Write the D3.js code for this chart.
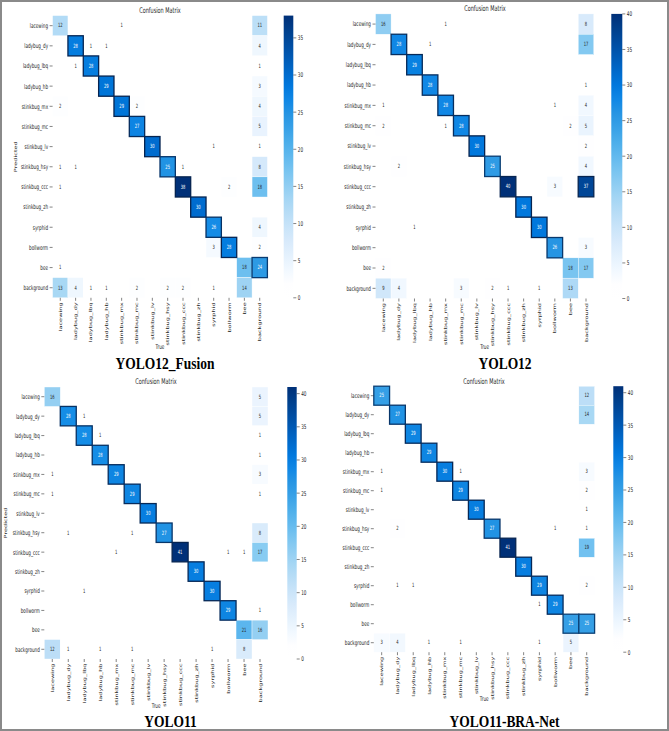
<!DOCTYPE html>
<html><head><meta charset="utf-8">
<script src="https://cdn.jsdelivr.net/npm/d3@7"></script>
<style>body{margin:0;background:#fff}svg{display:block}</style>
</head><body>
<script>
const classes = ["lacewing","ladybug_dy","ladybug_lbq","ladybug_hb","stinkbug_mx","stinkbug_mc","stinkbug_lv","stinkbug_hsy","stinkbug_ccc","stinkbug_zh","syrphid","bollworm","bee","background"];

const yolo12Fusion = [
  [12,0,0,0,1,0,0,0,0,0,0,0,0,11],
  [0,28,1,1,0,0,0,0,0,0,0,0,0,4],
  [0,1,28,0,0,0,0,0,0,0,0,0,0,1],
  [0,0,0,29,0,0,0,0,0,0,0,0,0,3],
  [2,0,0,0,29,2,0,0,0,0,0,0,0,4],
  [0,0,0,0,0,27,0,0,0,0,0,0,0,5],
  [0,0,0,0,0,0,30,0,0,0,1,0,0,1],
  [1,1,0,0,0,0,0,25,1,0,0,0,0,8],
  [1,0,0,0,0,0,0,0,38,0,0,2,0,18],
  [0,0,0,0,0,0,0,0,0,30,0,0,0,0],
  [0,0,0,0,0,0,0,0,0,0,26,0,0,4],
  [0,0,0,0,0,0,0,0,0,0,3,28,0,2],
  [1,0,0,0,0,0,0,0,0,0,0,0,18,24],
  [13,4,1,1,0,2,0,2,2,0,1,0,14,0]
];
const yolo12 = [
  [16,0,0,0,1,0,0,0,0,0,0,0,0,8],
  [0,28,0,1,0,0,0,0,0,0,0,0,0,17],
  [0,0,29,0,0,0,0,0,0,0,0,0,0,0],
  [0,0,0,28,0,0,0,0,0,0,0,0,0,1],
  [1,0,0,0,28,0,0,0,0,0,0,1,0,4],
  [2,0,0,0,1,28,0,0,0,0,0,0,2,5],
  [0,0,0,0,0,0,30,0,0,0,0,0,0,2],
  [0,2,0,0,0,0,0,25,0,0,0,0,0,4],
  [0,0,0,0,0,0,0,0,40,0,0,3,0,37],
  [0,0,0,0,0,0,0,0,0,30,0,0,0,0],
  [0,0,1,0,0,0,0,0,0,0,30,0,0,0],
  [0,0,0,0,0,0,0,0,0,0,0,26,0,3],
  [2,0,0,0,0,0,0,0,0,0,0,0,18,17],
  [9,4,0,0,0,3,0,2,1,0,1,0,13,0]
];
const yolo11 = [
  [16,0,0,0,0,0,0,0,0,0,0,0,0,5],
  [0,28,1,0,0,0,0,0,0,0,0,0,0,5],
  [0,0,28,1,0,0,0,0,0,0,0,0,0,1],
  [0,0,0,28,0,0,0,0,0,0,0,0,0,1],
  [1,0,0,0,29,0,0,0,0,0,0,0,0,3],
  [1,0,0,0,0,29,0,0,0,0,0,0,0,1],
  [0,0,0,0,0,0,30,0,0,0,0,0,0,0],
  [0,1,0,0,0,1,0,27,0,0,0,0,0,8],
  [0,0,0,0,1,0,0,0,41,0,0,1,1,17],
  [0,0,0,0,0,0,0,0,0,30,0,0,0,0],
  [0,0,1,0,0,0,0,0,0,0,30,0,0,0],
  [0,0,0,0,0,0,0,0,0,0,0,29,0,1],
  [0,0,0,0,0,0,0,0,0,0,0,0,21,16],
  [12,1,0,1,0,1,0,0,0,0,1,0,8,0]
];
const yolo11BRA = [
  [25,0,0,0,0,0,0,0,0,0,0,0,0,12],
  [0,27,0,0,0,0,0,0,0,0,0,0,0,14],
  [0,0,29,0,0,0,0,0,0,0,0,0,0,0],
  [0,0,0,29,0,0,0,0,0,0,0,0,0,0],
  [1,0,0,0,30,1,0,0,0,0,0,0,0,3],
  [1,0,0,0,0,29,0,0,0,0,0,0,0,2],
  [0,0,0,0,0,0,30,0,0,0,0,0,0,1],
  [0,2,0,0,0,0,0,27,0,0,0,1,0,1],
  [0,0,0,0,0,0,0,0,41,0,0,0,0,19],
  [0,0,0,0,0,0,0,0,0,30,0,0,0,0],
  [0,1,1,0,0,0,0,0,0,0,29,0,0,2],
  [0,0,0,0,0,0,0,0,0,0,1,29,0,0],
  [0,0,0,0,0,0,0,0,0,0,0,0,25,25],
  [3,4,0,1,0,1,0,0,0,0,1,0,5,0]
];
const modelNames = ["YOLO12_Fusion","YOLO12","YOLO11","YOLO11-BRA-Net"];
const cbarTicks = [[0,5,10,15,20,25,30,35],[0,5,10,15,20,25,30,35,40],[0,5,10,15,20,25,30,35,40],[0,5,10,15,20,25,30,35,40]];
const matrices = [yolo12Fusion, yolo12, yolo11, yolo11BRA];

const W = 669, H = 731;
const SANS = "'DejaVu Sans', 'Noto Sans', sans-serif";
const svg = d3.select("body").append("svg").attr("width", W).attr("height", H)
  .style("font-family", SANS);
svg.append("rect").attr("x",0).attr("y",0).attr("width",W).attr("height",H).attr("fill","#fff");

// Blues colormap, slightly more saturated like the reference image
function blues(p) {
  const c = d3.hsl(d3.interpolateBlues(p));
  c.s = Math.min(1, c.s * 1.45);
  c.l = Math.min(1, c.l * 1.04);
  return c.formatHex();
}

function t(g, x, y, s, o = {}) {
  const e = g.append("text")
    .attr("transform", `translate(${x},${y}) scale(${o.sx ?? 0.63},1)${o.rot ? ` rotate(${o.rot})` : ""}`)
    .attr("text-anchor", o.anchor || "middle")
    .attr("dominant-baseline", o.base || "central")
    .attr("font-size", o.size || 6.6)
    .attr("font-family", o.family || SANS)
    .attr("fill", o.fill || "#262626")
    .text(s);
  if (o.weight) e.attr("font-weight", o.weight);
  return e;
}
function lum(c) {
  const r = d3.rgb(c);
  const f = v => { v /= 255; return v <= 0.03928 ? v / 12.92 : Math.pow((v + 0.055) / 1.055, 2.4); };
  return 0.2126 * f(r.r) + 0.7152 * f(r.g) + 0.0722 * f(r.b);
}

const layouts = [
  {x0:52.6, x1:267.4, y0:15.6, y1:297.8, cb0:283.7, cb1:293.3, vmax:38, titleX:160, titleY:10.5, trueY:347, predX:15, capX:165, capY:369},
  {x0:375.5, x1:593.8, y0:13.9, y1:298.5, cb0:611.3, cb1:622.3, vmax:40, titleX:485, titleY:8.5, trueY:347, predX:null, capX:505, capY:369},
  {x0:44.3, x1:268, y0:387, y1:659, cb0:287.3, cb1:296.7, vmax:41, titleX:156, titleY:381.7, trueY:705.7, predX:5.5, capX:170.5, capY:726.5},
  {x0:373.8, x1:594.6, y0:386.2, y1:652.2, cb0:613.3, cb1:623.3, vmax:41, titleX:484, titleY:381.7, trueY:698.3, predX:null, capX:504.5, capY:726.5}
];

layouts.forEach((L, pi) => {
  const data = matrices[pi];
  const g = svg.append("g");
  const x = d3.scaleBand().domain(classes).range([L.x0, L.x1]);
  const y = d3.scaleBand().domain(classes).range([L.y0, L.y1]);
  const color = d3.scaleSequential(blues).domain([0, L.vmax]);
  const cells = [];
  data.forEach((row, i) => row.forEach((v, j) => { if (v > 0) cells.push({r: classes[i], c: classes[j], v}); }));
  const strong = d => d.v / L.vmax > 0.55;
  const ordered = cells.filter(d => !strong(d)).concat(cells.filter(strong));
  g.selectAll("rect.cell").data(ordered).join("rect").attr("class","cell")
    .attr("x", d => x(d.c)).attr("y", d => y(d.r))
    .attr("width", x.bandwidth()).attr("height", y.bandwidth())
    .attr("fill", d => color(d.v))
    .attr("stroke", d => strong(d) ? d3.color(d3.interpolateBlues(Math.min(1, d.v / L.vmax + 0.25))).darker(0.8) : "#fff")
    .attr("stroke-width", d => strong(d) ? 1.3 : 0.4);
  cells.forEach(d => {
    const fc = lum(color(d.v)) > 0.408 ? "#262626" : "#fff";
    t(g, x(d.c) + x.bandwidth()/2, y(d.r) + y.bandwidth()/2, d.v, {size: 5.8, fill: fc});
  });
  classes.forEach(c => {
    const yc = y(c) + y.bandwidth()/2;
    g.append("line").attr("x1", L.x0 - 3).attr("x2", L.x0).attr("y1", yc).attr("y2", yc).attr("stroke", "#333").attr("stroke-width", 0.6);
    t(g, L.x0 - 4.5, yc, c, {anchor: "end"});
    const xc = x(c) + x.bandwidth()/2;
    g.append("line").attr("x1", xc).attr("x2", xc).attr("y1", L.y1).attr("y2", L.y1 + 3).attr("stroke", "#333").attr("stroke-width", 0.6);
    t(g, xc, L.y1 + 4.5, c, {anchor: "end", rot: -90});
  });
  const gid = "cb" + pi;
  const grad = svg.append("defs").append("linearGradient").attr("id", gid)
    .attr("x1", 0).attr("y1", 1).attr("x2", 0).attr("y2", 0);
  d3.range(0, 1.0001, 0.05).forEach(p => grad.append("stop").attr("offset", p).attr("stop-color", blues(p)));
  g.append("rect").attr("x", L.cb0).attr("y", L.y0).attr("width", L.cb1 - L.cb0).attr("height", L.y1 - L.y0).attr("fill", `url(#${gid})`);
  const cy = d3.scaleLinear().domain([0, L.vmax]).range([L.y1, L.y0]);
  cbarTicks[pi].forEach(v => {
    g.append("line").attr("x1", L.cb1).attr("x2", L.cb1 + 3).attr("y1", cy(v)).attr("y2", cy(v)).attr("stroke", "#333").attr("stroke-width", 0.6);
    t(g, L.cb1 + 4.5, cy(v), v, {anchor: "start"});
  });
  t(g, L.titleX, L.titleY, "Confusion Matrix", {size: 7.8});
  t(g, (L.x0 + L.x1)/2, L.trueY, "True", {size: 6.6});
  if (L.predX !== null) t(g, L.predX, (L.y0 + L.y1)/2, "Predicted", {size: 6.6, rot: -90});
  t(g, L.capX, L.capY, modelNames[pi], {size: 17.5, sx: 0.77, base: "alphabetic", family: "'Liberation Serif', 'Times New Roman', serif", weight: "bold", fill: "#000"});
});

svg.append("rect").attr("x", 1).attr("y", 1).attr("width", W - 2).attr("height", H - 2)
  .attr("fill", "none").attr("stroke", "#8a8a8a").attr("stroke-width", 2);
</script>
</body></html>
